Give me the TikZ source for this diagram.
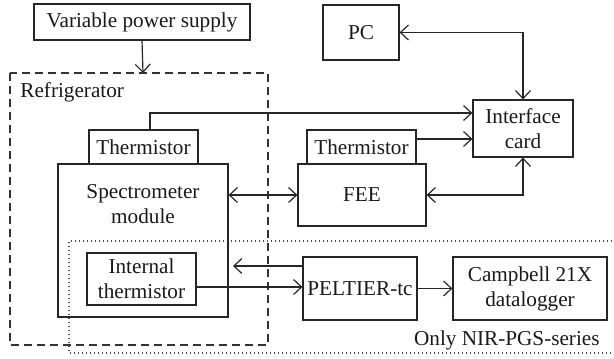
\documentclass[tikz,border=0pt]{standalone}
\usepackage{fontspec}
\setmainfont{Liberation Serif}
\usetikzlibrary{arrows.meta}
\begin{document}
\begin{tikzpicture}[x=0.5pt,y=-0.5pt,
  every node/.style={font=\fontsize{10.6}{12.5}\selectfont, text=black!90},
  box/.style={draw=black!85, line width=0.6pt, inner sep=0pt, align=center},
  conn/.style={draw=black!85, line width=0.6pt, arrows={-Straight Barb[length=4pt,width=7.5pt]}},
  conn2/.style={draw=black!85, line width=0.6pt, arrows={Straight Barb[length=4pt,width=7.5pt]-Straight Barb[length=4pt,width=7.5pt]}},
  fridge/.style={draw=black!80, line width=0.6pt, dash pattern=on 4pt off 2.5pt},
  dots/.style={draw=black!70, line width=0.6pt, dash pattern=on 0.6pt off 1.4pt}]
\useasboundingbox (0,0) rectangle (614,358);
% containers
\draw[fridge] (10,73) rectangle (268,345);
\draw[dots] (616,241) -- (69,241) -- (69,353) -- (616,353);
\node[anchor=west, inner sep=0pt] (fridgelabel) at (20,92) {Refrigerator};
\node[anchor=east, inner sep=0pt] (onlylabel) at (600,340) {Only NIR-PGS-series};
\coordinate (fridgetop) at (143,73);
\coordinate (pin) at (233,266);
% boxes
\node[box, minimum width=108pt, minimum height=18pt] (vps) at (142,22) {Variable power supply};
\node[box, minimum width=38pt, minimum height=27.5pt] (pc) at (361,32.5) {PC};
\node[box, minimum width=50pt, minimum height=28.5pt] (iface) at (523,128.5) {Interface\\card};
\node[box, minimum width=54.5pt, minimum height=17pt] (therm1) at (143.5,147) {Thermistor};
\node[box, minimum width=85pt, minimum height=76.5pt] (spec) at (143,240.5) {};
\node (spectext) at (143,204) [align=center] {Spectrometer\\module};
\node[box, minimum width=54.5pt, minimum height=26pt] (intth) at (141.5,279) {Internal\\thermistor};
\node[box, minimum width=54.5pt, minimum height=17pt] (therm2) at (361.5,147) {Thermistor};
\node[box, minimum width=64pt, minimum height=31pt] (fee) at (362,195) {FEE};
\node[box, minimum width=57pt, minimum height=31.5pt] (peltier) at (360,288.5) {PELTIER-tc};
\node[box, minimum width=77pt, minimum height=31.5pt] (campbell) at (530,288.5) {Campbell 21X\\datalogger};
% connectors
\draw[conn] (vps.south) -- (fridgetop);
\draw[conn] ([xshift=3.25pt]therm1.north) |- ([yshift=7.75pt]iface.west);
\draw[conn] ([yshift=4pt]therm2.east) -- ([yshift=4pt]therm2.east -| iface.west);
\draw[conn2] (pc.east) -| (iface.north);
\draw[conn2] (iface.south) |- (fee.east);
\draw[conn2] (spec.east |- fee.west) -- (fee.west);
\draw[conn] ([yshift=-4pt]intth.east) -- ([yshift=-4pt]intth.east -| peltier.west);
\draw[conn] (peltier.west |- pin) -- (pin);
\draw[conn] (peltier.east) -- (campbell.west);
\end{tikzpicture}
\end{document}
